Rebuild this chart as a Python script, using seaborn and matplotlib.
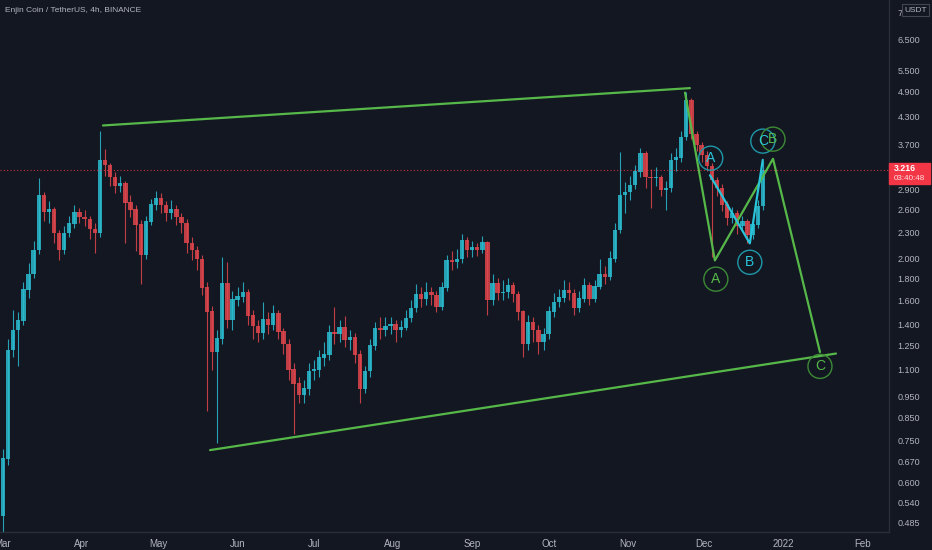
import numpy as np
import pandas as pd
import seaborn as sns
import matplotlib.pyplot as plt
from matplotlib.patches import Rectangle

# ENJ/USDT, resampled to 2-day candles
first_open = 0.50
closes = [
    0.68, 1.22, 1.36, 1.43, 1.69, 1.84, 2.09, 2.81, 2.57, 2.60,
    2.29, 2.09, 2.29, 2.41, 2.57, 2.50, 2.47, 2.34, 2.29, 3.40,
    3.31, 3.10, 2.95, 3.00, 2.70, 2.60, 2.40, 2.04, 2.44, 2.67,
    2.77, 2.66, 2.55, 2.60, 2.50, 2.42, 2.17, 2.09, 1.99, 1.71,
    1.50, 1.21, 1.30, 1.75, 1.44, 1.60, 1.63, 1.67, 1.47, 1.39,
    1.34, 1.44, 1.40, 1.49, 1.35, 1.26, 1.10, 1.02, 0.96, 0.99,
    1.09, 1.10, 1.17, 1.19, 1.34, 1.33, 1.38, 1.29, 1.31, 1.19,
    0.99, 1.09, 1.25, 1.37, 1.36, 1.39, 1.40, 1.36, 1.38, 1.45,
    1.53, 1.65, 1.61, 1.67, 1.64, 1.54, 1.71, 1.98, 1.96, 1.99,
    2.21, 2.09, 2.12, 2.09, 2.18, 1.60, 1.75, 1.66, 1.67, 1.73,
    1.65, 1.50, 1.26, 1.42, 1.36, 1.28, 1.33, 1.50, 1.58, 1.62,
    1.68, 1.66, 1.53, 1.61, 1.73, 1.61, 1.72, 1.84, 1.81, 2.00,
    2.33, 2.81, 2.86, 2.97, 3.19, 3.53, 3.10, 3.08, 3.10, 2.89,
    2.92, 3.40, 3.44, 3.84, 4.69, 3.90, 3.68, 3.49, 3.29, 3.05,
    2.92, 2.67, 2.49, 2.55, 2.38, 2.44, 2.27, 2.40, 2.65, 3.216,
]
highs = [
    0.72, 1.30, 1.52, 1.50, 1.76, 1.95, 2.20, 3.08, 2.86, 2.72,
    2.64, 2.33, 2.38, 2.52, 2.66, 2.62, 2.60, 2.52, 2.42, 3.98,
    3.60, 3.34, 3.18, 3.12, 3.04, 2.82, 2.66, 2.46, 2.52, 2.76,
    2.88, 2.84, 2.72, 2.74, 2.66, 2.56, 2.48, 2.24, 2.14, 2.04,
    1.76, 1.55, 1.36, 2.02, 1.96, 1.68, 1.72, 1.76, 1.70, 1.52,
    1.44, 1.58, 1.50, 1.56, 1.52, 1.38, 1.30, 1.14, 1.06, 1.04,
    1.14, 1.16, 1.22, 1.28, 1.40, 1.54, 1.44, 1.47, 1.36, 1.34,
    1.22, 1.12, 1.30, 1.42, 1.46, 1.46, 1.46, 1.44, 1.44, 1.52,
    1.60, 1.74, 1.72, 1.76, 1.72, 1.68, 1.76, 2.04, 2.08, 2.10,
    2.28, 2.24, 2.20, 2.18, 2.26, 2.20, 1.84, 1.80, 1.78, 1.80,
    1.76, 1.68, 1.52, 1.48, 1.46, 1.40, 1.38, 1.55, 1.66, 1.70,
    1.78, 1.76, 1.70, 1.68, 1.80, 1.76, 1.78, 1.99, 1.92, 2.08,
    2.42, 3.54, 3.02, 3.12, 3.30, 3.62, 3.56, 3.24, 3.28, 3.14,
    3.04, 3.52, 3.62, 3.98, 4.90, 4.74, 3.98, 3.74, 3.56, 3.34,
    3.10, 2.98, 2.72, 2.64, 2.60, 2.52, 2.48, 2.48, 2.74, 3.38,
]
lows = [
    0.46, 0.66, 1.18, 1.12, 1.40, 1.62, 1.80, 2.05, 2.45, 2.42,
    2.18, 1.98, 2.05, 2.24, 2.36, 2.42, 2.38, 2.22, 2.06, 2.25,
    3.12, 2.96, 2.84, 2.86, 2.18, 2.50, 2.08, 1.74, 2.00, 2.40,
    2.60, 2.56, 2.45, 2.48, 2.40, 2.30, 2.06, 1.98, 1.88, 1.64,
    0.88, 1.10, 0.74, 1.26, 1.38, 1.36, 1.55, 1.58, 1.40, 1.30,
    1.28, 1.30, 1.33, 1.36, 1.30, 1.20, 1.04, 0.78, 0.92, 0.92,
    0.96, 1.04, 1.06, 1.12, 1.16, 1.26, 1.28, 1.24, 1.22, 1.14,
    0.92, 0.97, 1.06, 1.22, 1.30, 1.32, 1.33, 1.28, 1.31, 1.36,
    1.42, 1.50, 1.54, 1.56, 1.56, 1.50, 1.52, 1.68, 1.88, 1.90,
    1.95, 2.02, 2.02, 2.03, 2.06, 1.48, 1.56, 1.60, 1.60, 1.62,
    1.58, 1.44, 1.18, 1.22, 1.28, 1.20, 1.22, 1.30, 1.46, 1.54,
    1.58, 1.60, 1.48, 1.50, 1.58, 1.56, 1.58, 1.70, 1.74, 1.78,
    1.96, 2.30, 2.55, 2.74, 2.90, 3.10, 2.92, 2.62, 2.96, 2.80,
    2.60, 2.86, 3.20, 3.36, 3.78, 3.80, 3.56, 3.36, 3.20, 2.02,
    2.80, 2.58, 2.40, 2.42, 2.28, 2.34, 2.17, 2.22, 2.36, 2.60,
]
last_price = 3.216

# drawings on the chart
channel_top_dates = ['2021-04-09 05:00', '2021-11-25 10:00']
channel_top_prices = [4.09, 5.00]
channel_bot_dates = ['2021-05-21 05:00', '2022-01-21 17:00']
channel_bot_prices = [0.714, 1.20]
green_wave_dates = ['2021-11-23 12:00', '2021-12-05 05:00', '2021-12-28 00:00', '2022-01-15 10:00']
green_wave_prices = [4.88, 1.98, 3.42, 1.21]
cyan_wave_dates = ['2021-12-03 07:00', '2021-12-18 22:00', '2021-12-24 00:00']
cyan_wave_prices = [3.13, 2.17, 3.40]

cyan_labels = ['A', 'B', 'C']
cyan_label_dates = ['2021-12-03 14:00', '2021-12-18 22:00', '2021-12-24 00:00']
cyan_label_prices = [3.43, 1.96, 3.76]
green_labels = ['A', 'B', 'C']
green_label_dates = ['2021-12-05 14:00', '2021-12-28 00:00', '2022-01-15 10:00']
green_label_prices = [1.79, 3.80, 1.12]

price_ticks = [0.485, 0.54, 0.6, 0.67, 0.75, 0.85, 0.95, 1.1, 1.25, 1.4, 1.6,
               1.8, 2.0, 2.3, 2.6, 2.9, 3.7, 4.3, 4.9, 5.5, 6.5, 7.5]
price_tick_labels = ['0.485', '0.540', '0.600', '0.670', '0.750', '0.850', '0.950',
                     '1.100', '1.250', '1.400', '1.600', '1.800', '2.000', '2.300',
                     '2.600', '2.900', '3.700', '4.300', '4.900', '5.500', '6.500', '7']
month_starts = ['2021-03-01', '2021-04-01', '2021-05-01', '2021-06-01', '2021-07-01',
                '2021-08-01', '2021-09-01', '2021-10-01', '2021-11-01', '2021-12-01',
                '2022-01-01', '2022-02-01']
month_labels = ['Mar', 'Apr', 'May', 'Jun', 'Jul', 'Aug', 'Sep', 'Oct', 'Nov', 'Dec', '2022', 'Feb']

BG = '#131722'
TXT = '#b2b5be'
LINE = '#2a2e39'
UP = '#2bbbd0'
DOWN = '#e0464c'
GREEN = '#56b849'
CYAN = '#29c4d9'

sns.set_theme(style='dark', rc={'axes.facecolor': BG, 'figure.facecolor': BG,
                                'axes.edgecolor': LINE, 'text.color': TXT})
plt.rcParams['font.family'] = ['Liberation Sans', 'DejaVu Sans']

df = pd.DataFrame({
    'date': pd.date_range('2021-03-01', periods=len(closes), freq='2D'),
    'open': [first_open] + closes[:-1],
    'high': highs, 'low': lows, 'close': closes,
})
colors = np.where(df['close'] >= df['open'], UP, DOWN)

fig = plt.figure(figsize=(9.32, 5.5), dpi=100)
ax = fig.add_axes([0, 18 / 550, 889 / 932, 532 / 550])
ax.set_yscale('log')

ax.vlines(df['date'], df['low'], df['high'], colors=colors, lw=0.8, alpha=0.85)
ax.bar(df['date'], (df['close'] - df['open']).abs() + 0.005,
       bottom=df[['open', 'close']].min(axis=1), width=1.7, color=colors, lw=0, alpha=0.85)

ax.axhline(last_price, color='#f23645', lw=0.8, ls=(0, (1, 2)), alpha=0.8)

def wave(dates, prices, color):
    d = pd.DataFrame({'date': pd.to_datetime(dates), 'price': prices})
    sns.lineplot(data=d, x='date', y='price', sort=False, color=color, lw=1.6, ax=ax)

wave(channel_top_dates, channel_top_prices, GREEN)
wave(channel_bot_dates, channel_bot_prices, GREEN)
wave(green_wave_dates, green_wave_prices, GREEN)
wave(cyan_wave_dates, cyan_wave_prices, CYAN)

def circled(labels, dates, prices, color, edge):
    ax.scatter(pd.to_datetime(dates), prices, s=300, facecolors='none',
               edgecolors=edge, linewidths=1.0, zorder=5)
    for lab, d, p in zip(labels, pd.to_datetime(dates), prices):
        ax.text(d, p, lab, color=color, fontsize=10, ha='center', va='center', zorder=6)

circled(cyan_labels, cyan_label_dates, cyan_label_prices, CYAN, '#1f97a8')
circled(green_labels, green_label_dates, green_label_prices, GREEN, '#3d8a36')

start = pd.Timestamp('2021-03-01')
ax.set_xlim(start - pd.Timedelta(days=1.18), start + pd.Timedelta(days=347.5))
ax.set_ylim(0.4597, 8.03)

ax.yaxis.tick_right()
ax.set_yticks(price_ticks)
ax.set_yticklabels(price_tick_labels)
ax.minorticks_off()
ax.set_xticks(pd.to_datetime(month_starts))
ax.set_xticklabels(month_labels)
ax.tick_params(axis='y', length=0, pad=6, labelsize=6.5, colors=TXT)
ax.tick_params(axis='x', length=0, pad=5, labelsize=7, colors=TXT)
ax.set_xlabel('')
ax.set_ylabel('')
ax.grid(False)
for side in ['left', 'top']:
    ax.spines[side].set_visible(False)
for side in ['right', 'bottom']:
    ax.spines[side].set_color(LINE)
    ax.spines[side].set_linewidth(1)

fig.text(5 / 932, 1 - 10 / 550, 'Enjin Coin / TetherUS, 4h, BINANCE',
         fontsize=6.0, color=TXT, va='center', ha='left')

# last price tag on the scale
fig.add_artist(Rectangle((889 / 932, 1 - 184 / 550), 41 / 932, 21 / 550,
                         transform=fig.transFigure, color='#f23645', zorder=10))
fig.text(894 / 932, 1 - 168.5 / 550, '3.216', fontsize=6.3, color='white',
         weight='bold', va='center', zorder=11)
fig.text(894 / 932, 1 - 179 / 550, '03:40:48', fontsize=5.8, color='#fde0e2',
         va='center', zorder=11)

# currency box next to the top label
fig.text(904 / 932, 1 - 10 / 550, 'USDT', fontsize=6.0, color=TXT, va='center', zorder=11,
         bbox=dict(boxstyle='square,pad=0.25', fc=BG, ec='#434651', lw=0.8))

fig.savefig('out.png', dpi=100, facecolor=BG)
